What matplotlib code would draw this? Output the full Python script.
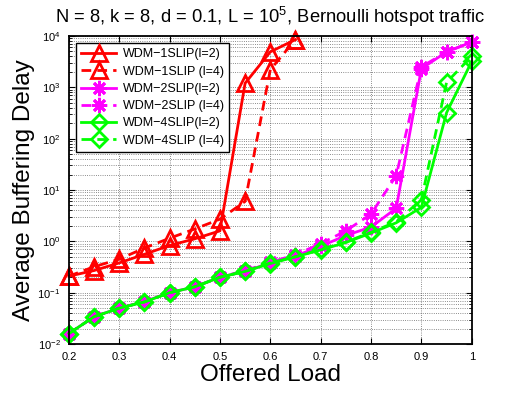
import matplotlib
matplotlib.use('Agg')
import matplotlib.pyplot as plt
import numpy as np

plt.rcParams['font.family'] = ['Liberation Sans', 'DejaVu Sans']
plt.rcParams['mathtext.fontset'] = 'custom'
plt.rcParams['mathtext.rm'] = 'Liberation Sans'
plt.rcParams['mathtext.it'] = 'Liberation Sans:italic'
plt.rcParams['mathtext.bf'] = 'Liberation Sans:bold'

# offered load
load = [0.2, 0.25, 0.3, 0.35, 0.4, 0.45, 0.5, 0.55, 0.6, 0.65,
        0.7, 0.75, 0.8, 0.85, 0.9, 0.95, 1.0]

# WDM-1SLIP only up to 0.65
s1_l2 = [0.21, 0.27, 0.38, 0.56, 0.83, 1.12, 1.6, 1200, 4900, 8500]
s1_l4 = [0.21, 0.32, 0.45, 0.74, 1.15, 1.74, 2.7, 6.0, 2200, 8500]

s2_l2 = [0.016, 0.034, 0.050, 0.067, 0.10, 0.13, 0.20, 0.26, 0.38, 0.52,
         0.80, 1.3, 1.9, 4.4, 2300, 4900, 7600]
s2_l4 = [0.016, 0.034, 0.050, 0.067, 0.10, 0.13, 0.20, 0.27, 0.39, 0.55,
         0.90, 1.6, 3.4, 19, 2500, 4900, 7600]

s4_l2 = [0.016, 0.034, 0.050, 0.066, 0.10, 0.13, 0.20, 0.26, 0.37, 0.50,
         0.68, 0.95, 1.45, 2.3, 4.6, 320, 3200]
s4_l4 = [0.016, 0.034, 0.050, 0.066, 0.10, 0.13, 0.20, 0.26, 0.38, 0.50,
         0.70, 0.97, 1.5, 2.4, 6.5, 1250, 4000]

fig = plt.figure(figsize=(5.1, 3.95), dpi=100)
ax = fig.add_axes([0.135, 0.129, 0.79, 0.78])

lw = 2
dash = (0, (3.5, 2.2))
ast = (8, 2, 0)
red = '#ff0000'
mag = '#ff00ff'
grn = '#00ff00'

ax.plot(load[:10], s1_l2, color=red, lw=lw, marker='^', ms=11, mfc='none',
        mew=2, clip_on=False, label='WDM\u22121SLIP(l=2)')
ax.plot(load[:10], s1_l4, color=red, lw=lw, ls=dash, marker='^', ms=11, mfc='none',
        mew=2, clip_on=False, label='WDM\u22121SLIP (l=4)')
ax.plot(load, s2_l2, color=mag, lw=lw, marker=ast, ms=11,
        mew=2, clip_on=False, label='WDM\u22122SLIP(l=2)')
ax.plot(load, s2_l4, color=mag, lw=lw, ls=dash, marker=ast, ms=11,
        mew=2, clip_on=False, label='WDM\u22122SLIP (l=4)')
ax.plot(load, s4_l2, color=grn, lw=lw, marker='D', ms=8, mfc='none',
        mew=2, clip_on=False, label='WDM\u22124SLIP(l=2)')
ax.plot(load, s4_l4, color=grn, lw=lw, ls=dash, marker='D', ms=8, mfc='none',
        mew=2, clip_on=False, label='WDM\u22124SLIP (l=4)')

ax.set_yscale('log')
ax.set_xlim(0.2, 1.0)
ax.set_ylim(1e-2, 1e4)
ax.set_xticks(np.arange(0.2, 1.01, 0.1))
ax.set_xticklabels(['0.2', '0.3', '0.4', '0.5', '0.6', '0.7', '0.8', '0.9', '1'])
ax.set_yticks([1e-2, 1e-1, 1e0, 1e1, 1e2, 1e3, 1e4])

ax.grid(True, which='major', ls=':', color='k', lw=0.6, alpha=0.6)
ax.grid(True, which='minor', axis='y', ls=':', color='k', lw=0.6, alpha=0.6)
ax.tick_params(which='both', direction='in', top=True, right=True, labelsize=8)
ax.tick_params(which='major', length=4, pad=6)
ax.tick_params(which='minor', length=2)
for sp in ax.spines.values():
    sp.set_linewidth(1.3)
    sp.set_zorder(5)

ax.set_xlabel('Offered Load', fontsize=17.5, labelpad=1)
ax.set_ylabel('Average Buffering Delay', fontsize=17.5, labelpad=2)
ax.set_title('N = 8, k = 8, d = 0.1, L = 10$^5$, Bernoulli hotspot traffic',
             fontsize=13.2, pad=9)

leg = ax.legend(loc='upper left', fontsize=9, handlelength=2.8, handletextpad=0.55,
                labelspacing=0.42, borderaxespad=0.6, fancybox=False,
                edgecolor='k', framealpha=1)
leg.get_frame().set_linewidth(1.0)
leg.set_zorder(10)

fig.savefig('out.png', dpi=100)
